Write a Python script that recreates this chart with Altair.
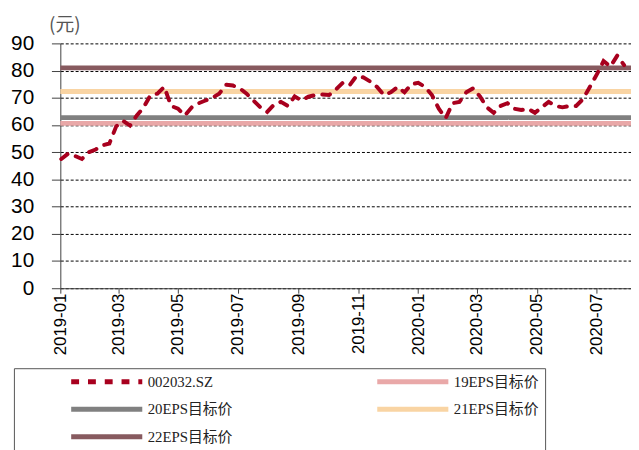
import altair as alt
import pandas as pd

# ---- data ----
start_date = "2019-01-02"
prices = [47.5, 49.5, 48.6, 47.5, 50.0, 51.0, 52.5, 53.2, 59.5, 61.5,
          59.8, 63.5, 66.5, 71.0, 71.5, 74.0, 67.0, 66.0, 63.5, 66.5,
          68.0, 69.0, 70.0, 71.5, 74.8, 74.5, 73.5, 71.5, 69.0, 66.5,
          64.8, 67.5, 68.5, 67.0, 70.5, 69.0, 70.4, 71.0, 71.2, 71.0,
          73.0, 75.5, 74.6, 78.0, 77.5, 76.0, 74.0, 71.0, 72.0, 74.0,
          72.0, 75.0, 75.5, 74.0, 71.0, 66.0, 62.5, 68.0, 68.5, 72.0,
          73.5, 70.5, 66.5, 64.5, 67.0, 68.0, 66.0, 65.5, 66.0, 64.5,
          66.5, 68.5, 67.0, 66.5, 67.0, 67.0, 69.5, 74.0, 78.5, 83.5,
          81.5, 85.5, 82.0]
dates = pd.date_range(start_date, periods=len(prices), freq="7D").strftime("%Y-%m-%d").tolist()

series_names = ["002032.SZ", "19EPS目标价", "20EPS目标价", "21EPS目标价", "22EPS目标价"]
series_colors = ["#A8001E", "#E9A8A8", "#808080", "#F9D4A3", "#875A5F"]
target_names = series_names[1:]
target_values = [60.6, 62.7, 72.3, 81.0]

y_ticks = [0, 10, 20, 30, 40, 50, 60, 70, 80, 90]
x_tick_months = [(2019, 1), (2019, 3), (2019, 5), (2019, 7), (2019, 9), (2019, 11),
                 (2020, 1), (2020, 3), (2020, 5), (2020, 7)]

price_df = pd.DataFrame({"date": dates, "value": prices, "series": series_names[0]})
target_df = pd.DataFrame({"value": target_values, "series": target_names})

LATIN = "Liberation Sans"
SERIF = "Liberation Serif, Noto Sans CJK SC"

legend = alt.Legend(
    title=None,
    orient="none", legendX=-47, legendY=329, columns=2, direction="horizontal",
    columnPadding=94, rowPadding=12, clipHeight=15,
    symbolType="M-9,0L9,0", symbolSize=64, symbolStrokeWidth=5,
    symbolOffset=80.5,
    labelFont=SERIF, labelFontSize=15, labelColor="#222222", labelOffset=34,
    labelLimit=400,
    strokeColor="#555555", padding=6,
)

color = alt.Color("series:N", scale=alt.Scale(domain=series_names, range=series_colors), legend=legend)
dash = alt.StrokeDash("series:N", scale=alt.Scale(domain=series_names,
                      range=[[8, 9], [1, 0], [1, 0], [1, 0], [1, 0]]), legend=legend)

y_enc = alt.Y("value:Q", scale=alt.Scale(domain=[0, 90], nice=False),
              axis=alt.Axis(values=y_ticks, title="(元)", titleAngle=0, titleX=4, titleY=-19,
                            titleAlign="center", titleBaseline="middle", titleFont="Noto Sans CJK SC",
                            titleFontSize=19, titleFontWeight="normal", titleColor="#555555",
                            labelFont=LATIN, labelFontSize=21, labelColor="#000000",
                            labelPadding=18, tickSize=9, tickColor="#404040",
                            domainColor="#404040", grid=True, gridColor="#000000",
                            gridDash=[3, 2], gridWidth=1))

rules = alt.Chart(target_df).mark_rule(strokeWidth=5).encode(
    y=y_enc, color=color, strokeDash=dash)

line = alt.Chart(price_df).mark_line(strokeWidth=4, strokeCap="round").encode(
    x=alt.X("date:T",
            scale=alt.Scale(type="utc",
                            domain=[alt.DateTime(year=2019, month=1, date=1, utc=True),
                                    alt.DateTime(year=2020, month=8, date=5, utc=True)]),
            axis=alt.Axis(values=[alt.DateTime(year=yy, month=mm, date=1, utc=True) for yy, mm in x_tick_months],
                          labelExpr="utcFormat(datum.value, '%Y-%m')", labelAngle=270, title=None,
                          labelFont=LATIN, labelFontSize=17, labelColor="#000000",
                          tickSize=5, labelPadding=0, tickColor="#404040",
                          domainColor="#404040", grid=False)),
    y=y_enc, color=color, strokeDash=dash)

chart = alt.layer(rules, line).properties(
    width=578, height=248,
    autosize=alt.AutoSizeParams(type="none"),
    padding={"left": 53, "top": 33, "right": 0, "bottom": 161},
).configure_view(stroke=None)

chart.save("out.html", embed_options={"renderer": "svg", "actions": False})
